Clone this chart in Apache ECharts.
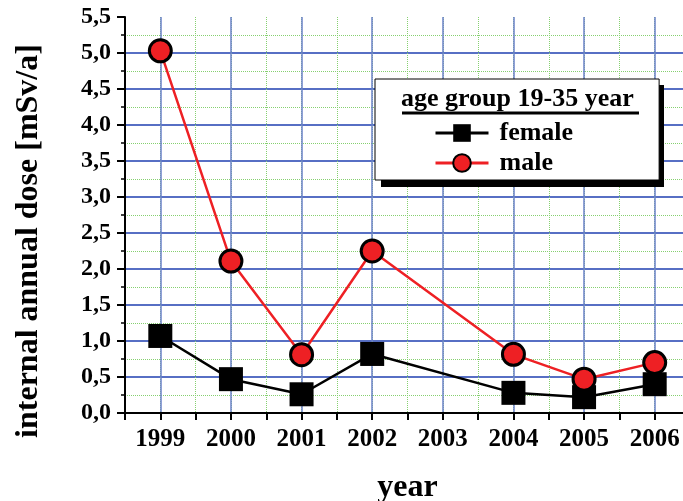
<!DOCTYPE html>
<html>
<head>
<meta charset="utf-8">
<script src="https://cdn.jsdelivr.net/npm/echarts@6/dist/echarts.min.js"></script>
<style>
  html, body { margin: 0; padding: 0; background: #fff; }
  #chart { width: 683px; height: 501px; }
</style>
</head>
<body>
<div id="chart"></div>
<script>
const years = [1999, 2000, 2001, 2002, 2004, 2005, 2006]
const gridYears = [1999, 2000, 2001, 2002, 2003, 2004, 2005, 2006]
const female = [1.07, 0.47, 0.26, 0.82, 0.28, 0.22, 0.40]
const male = [5.03, 2.11, 0.81, 2.25, 0.815, 0.47, 0.70]

const serif = 'Liberation Serif'
const red = '#ee2024'

const chart = echarts.init(document.getElementById('chart'))

const option = {
  animation: false,
  title: {
    text: 'age group 19-35 year',
    left: 401,
    top: 86,
    padding: 0,
    z: 12,
    textStyle: { fontFamily: serif, fontWeight: 'bold', fontSize: 26, color: '#000' }
  },
  legend: {
    orient: 'vertical',
    left: 375,
    top: 79,
    z: 10,
    padding: [41, 86, 4, 59],
    itemWidth: 53,
    itemHeight: 22,
    itemGap: 4,
    backgroundColor: '#fff',
    borderColor: '#000',
    borderWidth: 1,
    lineStyle: { width: 3 },
    textStyle: {
      fontFamily: serif, fontWeight: 'bold', fontSize: 26, color: '#000',
      lineHeight: 26, padding: [0, 0, 0, 6]
    },
    data: ['female', 'male']
  },
  graphic: [
    {
      // legend drop shadow
      type: 'rect',
      z: 9,
      left: 381,
      top: 85,
      shape: { width: 283, height: 102 },
      style: { fill: '#000' }
    },
    {
      type: 'line',
      z: 100,
      shape: { x1: 402, y1: 113, x2: 639, y2: 113 },
      style: { stroke: '#000', lineWidth: 3 }
    }
  ],
  grid: {
    left: 125,
    top: 17,
    width: 565,
    height: 396,
    outerBoundsMode: 'none'
  },
  xAxis: {
    type: 'value',
    min: 1998.5,
    max: 2006.5,
    interval: 0.5,
    name: 'year',
    nameLocation: 'middle',
    nameGap: 59,
    nameTextStyle: { fontFamily: serif, fontWeight: 'bold', fontSize: 32, color: '#000' },
    axisLine: { lineStyle: { color: '#000', width: 2 } },
    axisTick: { length: 7, lineStyle: { color: '#000', width: 2 } },
    axisLabel: {
      margin: 14,
      fontFamily: serif, fontWeight: 'bold', fontSize: 25, color: '#000',
      formatter: function (v) {
        return (v % 1 === 0) ? String(v) : ''
      }
    },
    splitLine: {
      show: true,
      showMinLine: false,
      lineStyle: { color: '#86d070', type: 'dotted', width: 1 }
    }
  },
  yAxis: {
    type: 'value',
    min: 0,
    max: 5.5,
    interval: 0.5,
    name: 'internal annual dose [mSv/a]',
    nameLocation: 'middle',
    nameGap: 80,
    nameTextStyle: {
      fontFamily: serif, fontWeight: 'bold', fontSize: 32, color: '#000',
      padding: [0, 52, 0, 0]
    },
    axisLine: { show: true, lineStyle: { color: '#000', width: 2 } },
    axisTick: { length: 8, lineStyle: { color: '#000', width: 2 } },
    minorTick: { show: true, splitNumber: 2, length: 4, lineStyle: { color: '#000', width: 1.5 } },
    axisLabel: {
      margin: 14,
      fontFamily: serif, fontWeight: 'bold', fontSize: 24, color: '#000',
      formatter: function (v) {
        return v.toFixed(1).replace('.', ',')
      }
    },
    splitLine: {
      show: true,
      showMaxLine: false,
      lineStyle: { color: '#1f3fb0', width: 1.5, opacity: 1 }
    },
    minorSplitLine: {
      show: true,
      lineStyle: { color: '#86d070', type: 'dotted', width: 1 }
    }
  },
  series: [
    {
      name: 'female',
      type: 'line',
      data: years.map((y, i) => [y, female[i]]),
      symbol: 'rect',
      symbolSize: 24,
      itemStyle: { color: '#000' },
      lineStyle: { color: '#000', width: 2.5 },
      z: 3,
      // blue vertical grid lines at the years
      markLine: {
        silent: true,
        symbol: 'none',
        z: 0,
        label: { show: false },
        lineStyle: { color: '#6a80c8', type: 'solid', width: 1.5 },
        data: gridYears.map(y => ({ xAxis: y }))
      }
    },
    {
      name: 'male',
      type: 'line',
      data: years.map((y, i) => [y, male[i]]),
      symbol: 'circle',
      symbolSize: 22,
      itemStyle: { color: red, borderColor: '#000', borderWidth: 3 },
      lineStyle: { color: red, width: 2.5 },
      z: 4
    }
  ]
}

chart.setOption(option)
</script>
</body>
</html>
